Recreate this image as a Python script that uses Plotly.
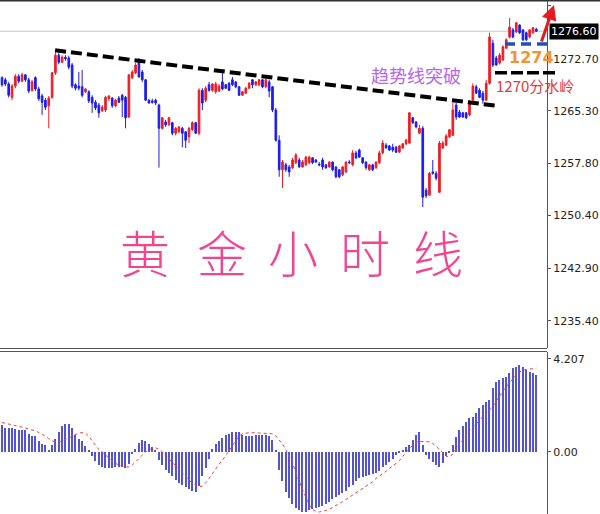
import plotly.graph_objects as go

# ---------------- data ----------------
opens = [1270.0,1269.7,1269.1,1267.2,1268.8,1270.2,1269.5,1270.4,1269.7,1268.2,
         1270.0,1268.4,1267.4,1266.8,1266.0,1267.2,1270.7,1273.2,1272.2,1272.9,
         1272.8,1271.8,1269.0,1268.8,1268.7,1268.0,1268.0,1267.2,1266.5,1266.1,
         1265.3,1265.4,1267.0,1267.1,1266.0,1267.1,1267.5,1267.2,1264.4,1270.0,
         1270.7,1272.5,1270.8,1269.7,1266.8,1266.7,1266.8,1266.1,1262.8,1263.7,
         1263.3,1263.6,1262.1,1262.3,1262.8,1262.3,1261.6,1262.6,1263.6,1262.1,
         1268.2,1266.8,1269.0,1268.2,1268.0,1268.1,1269.4,1269.0,1269.2,1269.7,
         1269.4,1268.7,1267.5,1267.8,1268.5,1269.7,1269.0,1269.0,1269.7,1268.7,
         1269.4,1268.7,1265.4,1261.1,1256.9,1257.6,1257.3,1257.2,1257.9,1258.3,
         1257.3,1257.6,1257.9,1258.6,1258.3,1257.7,1258.3,1257.6,1257.3,1258.0,
         1257.3,1256.9,1256.2,1256.6,1258.0,1257.6,1259.3,1259.7,1258.6,1258.0,
         1256.9,1257.6,1257.2,1257.9,1259.3,1260.4,1260.3,1260.1,1260.1,1259.4,
         1260.0,1260.6,1260.7,1264.3,1263.7,1262.1,1262.8,1254.0,1253.3,1256.6,
         1256.4,1253.7,1260.0,1260.4,1261.6,1261.8,1266.1,1265.1,1265.0,1265.0,
         1264.7,1266.8,1268.7,1268.2,1267.8,1266.8,1269.2,1274.9,1272.8,1272.1,
         1272.5,1274.2,1275.8,1276.8,1276.5,1277.5,1276.8,1276.4,1275.8,1276.4,
         1276.9]
highs = [1270.2,1270.0,1269.4,1269.1,1270.5,1270.5,1270.7,1270.5,1270.0,1269.7,
         1270.2,1268.7,1267.7,1267.1,1267.4,1270.8,1273.9,1273.5,1273.2,1273.2,
         1273.1,1272.1,1269.2,1270.8,1271.1,1268.5,1268.2,1267.5,1266.8,1266.4,
         1266.1,1267.4,1267.5,1267.2,1267.0,1267.4,1267.7,1267.4,1270.5,1271.1,
         1272.1,1272.8,1271.1,1269.8,1267.0,1267.0,1267.0,1266.3,1264.4,1264.0,
         1264.4,1263.7,1263.0,1263.1,1263.0,1262.4,1263.0,1263.8,1263.7,1268.5,
         1268.5,1268.8,1269.4,1269.2,1269.4,1269.1,1270.8,1269.1,1269.4,1270.1,
         1269.5,1268.8,1268.1,1268.7,1269.4,1269.8,1269.5,1269.8,1269.8,1269.8,
         1269.7,1268.8,1265.7,1261.8,1258.3,1257.9,1257.6,1258.6,1259.3,1258.6,
         1258.3,1258.9,1258.9,1258.7,1258.4,1258.0,1258.6,1257.7,1258.1,1258.1,
         1257.4,1257.0,1257.4,1258.1,1258.3,1259.7,1259.6,1259.9,1258.7,1258.1,
         1257.7,1257.7,1258.1,1259.6,1261.1,1260.7,1260.4,1260.6,1260.3,1260.4,
         1260.7,1261.3,1265.1,1264.4,1263.8,1263.3,1263.1,1254.3,1256.6,1258.3,
         1256.7,1261.0,1261.0,1262.0,1262.7,1266.4,1266.4,1265.4,1265.1,1265.1,
         1266.8,1269.2,1269.0,1268.5,1268.1,1269.7,1276.4,1275.4,1273.1,1273.5,
         1274.6,1275.6,1278.5,1277.1,1277.9,1277.6,1276.9,1276.5,1276.9,1277.2,
         1277.1]
lows = [1268.7,1268.8,1267.2,1266.8,1268.5,1269.2,1269.4,1269.4,1267.8,1268.0,
        1268.1,1266.7,1264.7,1265.4,1262.8,1267.0,1270.4,1271.9,1272.1,1272.4,
        1271.2,1268.5,1268.2,1268.2,1267.2,1267.8,1266.4,1265.0,1265.4,1264.3,
        1265.1,1265.1,1266.7,1265.7,1265.8,1266.4,1264.4,1262.8,1264.3,1269.8,
        1270.5,1270.0,1269.4,1266.7,1266.3,1266.3,1266.1,1257.2,1262.6,1263.0,
        1263.1,1261.8,1261.8,1262.1,1260.1,1260.0,1260.7,1262.4,1262.0,1261.8,
        1265.4,1266.5,1268.0,1268.0,1267.7,1268.0,1268.2,1268.4,1268.1,1268.8,
        1268.5,1267.4,1267.4,1267.7,1268.4,1268.5,1268.8,1268.8,1268.5,1268.5,
        1267.2,1265.1,1260.9,1255.9,1254.3,1256.6,1255.9,1257.0,1257.7,1257.2,
        1257.2,1257.4,1257.7,1257.7,1257.9,1257.4,1256.9,1257.0,1257.2,1256.7,
        1255.7,1255.7,1256.0,1256.4,1257.7,1257.4,1258.4,1258.6,1257.7,1256.9,
        1256.7,1256.7,1257.0,1257.7,1259.1,1259.9,1259.6,1259.4,1259.3,1259.3,
        1259.9,1260.4,1260.6,1263.4,1262.8,1262.0,1251.6,1252.9,1253.2,1256.2,
        1255.4,1253.6,1259.9,1260.3,1261.4,1261.7,1264.0,1264.3,1264.3,1264.1,
        1264.5,1266.7,1267.7,1267.1,1266.3,1266.7,1269.0,1271.5,1271.7,1271.9,
        1272.4,1274.1,1275.6,1275.6,1276.4,1276.2,1275.2,1275.2,1275.6,1276.2,
        1276.5]
closes = [1269.0,1269.1,1267.5,1268.8,1270.2,1269.5,1270.4,1269.7,1268.1,1269.4,
          1268.4,1267.0,1266.5,1265.8,1267.1,1270.7,1273.2,1272.2,1272.9,1272.7,
          1271.5,1268.8,1268.5,1268.5,1267.5,1268.4,1266.7,1266.4,1265.7,1265.0,
          1265.8,1267.2,1267.4,1266.0,1266.8,1266.5,1266.8,1264.3,1270.4,1270.8,
          1271.8,1270.1,1269.7,1266.8,1266.4,1266.5,1266.4,1262.8,1264.3,1263.3,
          1264.3,1262.1,1262.8,1263.0,1262.1,1261.1,1262.8,1263.6,1262.1,1268.2,
          1266.4,1268.5,1268.2,1269.1,1269.1,1268.8,1268.4,1268.5,1268.2,1269.0,
          1268.7,1267.5,1268.0,1268.5,1269.2,1269.0,1269.4,1269.7,1268.7,1269.7,
          1268.1,1265.4,1261.1,1256.9,1258.0,1256.9,1256.6,1258.3,1259.0,1257.3,
          1258.0,1258.7,1258.7,1257.9,1258.0,1257.6,1257.3,1257.2,1258.0,1256.9,
          1255.9,1255.9,1257.3,1258.0,1257.9,1259.3,1258.6,1258.7,1257.9,1257.2,
          1257.6,1256.9,1258.0,1259.3,1260.7,1260.0,1259.7,1259.7,1259.4,1260.3,
          1260.6,1261.1,1265.0,1263.6,1263.0,1262.8,1253.0,1253.2,1256.4,1256.4,
          1255.7,1260.7,1260.7,1261.7,1262.6,1265.4,1264.4,1264.4,1264.4,1264.3,
          1266.4,1268.8,1267.8,1267.2,1266.8,1269.2,1275.8,1271.8,1271.8,1273.2,
          1274.4,1275.4,1277.2,1275.8,1277.8,1276.4,1275.4,1275.4,1276.8,1277.1,
          1276.6]

macd_hist = [1.2,1.1,1.1,1.1,1.05,1.0,1.0,1.0,0.8,0.72,
             0.7,0.5,0.35,0.3,0.1,0.3,0.6,0.9,1.15,1.25,
             1.25,1.1,0.75,0.6,0.5,0.25,0.05,-0.2,-0.4,-0.6,
             -0.7,-0.75,-0.75,-0.75,-0.7,-0.7,-0.7,-0.75,-0.55,-0.1,
             0.15,0.4,0.55,0.5,0.35,0.2,0.05,-0.35,-0.6,-0.8,
             -0.95,-1.1,-1.25,-1.4,-1.5,-1.6,-1.7,-1.75,-1.8,-1.55,
             -1.1,-0.75,-0.3,0.15,0.35,0.5,0.65,0.75,0.82,0.88,
             0.92,0.9,0.78,0.72,0.7,0.72,0.76,0.78,0.78,0.76,
             0.74,0.55,0.1,-0.8,-1.3,-1.8,-2.1,-2.35,-2.55,-2.65,
             -2.7,-2.7,-2.65,-2.6,-2.55,-2.5,-2.45,-2.35,-2.25,-2.15,
             -2.05,-1.95,-1.85,-1.75,-1.6,-1.5,-1.3,-1.2,-1.15,-1.1,
             -1.05,-1.0,-0.95,-0.85,-0.7,-0.6,-0.45,-0.3,-0.15,-0.05,
             0.1,0.2,0.3,0.55,0.75,0.9,0.3,-0.15,-0.3,-0.45,
             -0.6,-0.7,-0.5,-0.2,-0.05,0.3,0.69,1.0,1.15,1.37,
             1.52,1.6,1.75,1.98,2.13,2.28,2.35,2.88,3.18,3.26,
             3.33,3.41,3.56,3.79,3.86,3.94,3.86,3.71,3.63,3.56,
             3.48]
macd_signal = [1.33,1.3,1.27,1.24,1.2,1.16,1.12,1.08,1.04,1.0,
               0.95,0.88,0.8,0.7,0.6,0.5,0.45,0.45,0.5,0.55,
               0.62,0.72,0.8,0.85,0.87,0.85,0.7,0.5,0.3,0.1,
               0.0,-0.15,-0.3,-0.42,-0.52,-0.6,-0.66,-0.68,-0.68,-0.6,
               -0.45,-0.3,-0.15,0.0,0.1,0.16,0.18,0.12,0.0,-0.15,
               -0.3,-0.45,-0.6,-0.78,-0.95,-1.12,-1.28,-1.42,-1.52,-1.58,
               -1.55,-1.4,-1.2,-0.98,-0.75,-0.55,-0.38,-0.15,0.05,0.3,
               0.55,0.72,0.82,0.86,0.87,0.87,0.86,0.86,0.86,0.85,
               0.84,0.82,0.72,0.55,0.35,0.1,-0.18,-0.5,-0.95,-1.35,
               -1.7,-2.05,-2.4,-2.6,-2.7,-2.72,-2.7,-2.65,-2.6,-2.52,
               -2.42,-2.33,-2.25,-2.15,-2.05,-1.95,-1.85,-1.78,-1.68,-1.55,
               -1.45,-1.35,-1.2,-1.1,-1.0,-0.88,-0.75,-0.62,-0.5,-0.4,
               -0.2,0.0,0.15,0.3,0.42,0.47,0.48,0.47,0.45,0.38,
               0.25,0.1,-0.05,-0.2,-0.22,-0.1,0.15,0.35,0.55,0.78,
               0.95,1.1,1.28,1.45,1.6,1.75,1.9,2.05,2.3,2.55,
               2.75,2.95,3.15,3.35,3.5,3.62,3.7,3.73,3.76,3.78,
               3.79]

price_ticks = [1235.40, 1242.90, 1250.40, 1257.80, 1265.30, 1272.70, 1280.20]
price_tick_text = ["1235.40", "1242.90", "1250.40", "1257.80", "1265.30", "1272.70", "1280.20"]
bid_price = 1276.60
bid_text = "1276.60"
macd_ticks = [4.207, 0.0]
macd_tick_text = ["4.207", "0.00"]
macd_min_text = "-3.451"

trend_start = (15.9, 1273.9)   # (bar index, price)
trend_end = (148.2, 1266.0)
level_1274 = 1274.8
level_1270 = 1270.7
title_chars = ["黄", "金", "小", "时", "线"]

# ---------------- layout helpers ----------------
W, H = 600, 514
PLOT_W = 547
Y1_RANGE = [1231.55, 1281.05]
Y2_RANGE = [-2.81, 4.52]
DOM1 = [1 - 348 / H, 1.0]
DOM2 = [0.0, 1 - 352 / H]
X_RANGE = [-0.6, 163.2]

def px(xp):
    return xp / PLOT_W

def py(yp):
    return 1 - yp / H

def price_to_paper(p):
    return DOM1[0] + (p - Y1_RANGE[0]) / (Y1_RANGE[1] - Y1_RANGE[0]) * (DOM1[1] - DOM1[0])

RED = "#ee1c24"
BLUE = "#1c1cf0"
xs = list(range(len(closes)))

fig = go.Figure()
fig.add_trace(go.Candlestick(
    x=xs, open=opens, high=highs, low=lows, close=closes,
    increasing=dict(line=dict(color=RED, width=1), fillcolor=RED),
    decreasing=dict(line=dict(color=BLUE, width=1), fillcolor=BLUE),
    whiskerwidth=0, xaxis="x", yaxis="y", showlegend=False, hoverinfo="skip"))

fig.add_trace(go.Bar(
    x=xs, y=macd_hist, width=0.38, marker=dict(color="#5353d6", line=dict(width=0)),
    xaxis="x2", yaxis="y2", showlegend=False, hoverinfo="skip"))
fig.add_trace(go.Scatter(
    x=xs, y=macd_signal, mode="lines", line=dict(color="#e8403a", width=1, dash="dot"),
    xaxis="x2", yaxis="y2", showlegend=False, hoverinfo="skip"))

axis_font = dict(family="DejaVu Sans", size=11, color="#222")

fig.update_layout(
    width=W, height=H, margin=dict(l=0, r=W - PLOT_W, t=0, b=0),
    paper_bgcolor="white", plot_bgcolor="white",
    xaxis=dict(domain=[0, 1], range=X_RANGE, anchor="y", showticklabels=False, showgrid=False,
               zeroline=False, rangeslider=dict(visible=False), showline=False, ticks=""),
    xaxis2=dict(domain=[0, 1], range=X_RANGE, anchor="y2", showticklabels=False, showgrid=False,
                zeroline=False, showline=False, ticks=""),
    yaxis=dict(domain=DOM1, range=Y1_RANGE, side="right", tickvals=price_ticks, ticktext=price_tick_text,
               showgrid=False, zeroline=False, showline=True, linecolor="#555", linewidth=1,
               ticks="outside", ticklen=3, tickcolor="#555", tickfont=axis_font),
    yaxis2=dict(domain=DOM2, range=Y2_RANGE, side="right", tickvals=macd_ticks, ticktext=macd_tick_text,
                showgrid=False, zeroline=False, showline=True, linecolor="#555", linewidth=1,
                ticks="outside", ticklen=3, tickcolor="#555", tickfont=axis_font),
    bargap=0,
)

shapes = []
# top border
shapes.append(dict(type="line", xref="paper", yref="paper", x0=0, x1=px(W), y0=py(0.5), y1=py(0.5),
                   line=dict(color="#333", width=2)))
# panel separators
for yy in (348.5, 351.5):
    shapes.append(dict(type="line", xref="paper", yref="paper", x0=0, x1=1, y0=py(yy), y1=py(yy),
                       line=dict(color="#555", width=1)))
# bid line
shapes.append(dict(type="line", xref="paper", yref="paper", x0=0, x1=1,
                   y0=price_to_paper(bid_price), y1=price_to_paper(bid_price),
                   line=dict(color="#c8c8c8", width=1), layer="below"))
# trend line
shapes.append(dict(type="line", xref="x", yref="y", x0=trend_start[0], y0=trend_start[1],
                   x1=trend_end[0], y1=trend_end[1], line=dict(color="black", width=4, dash="11px,5px")))
# 1274 blue dashed
shapes.append(dict(type="line", xref="paper", yref="paper", x0=px(505), x1=px(548),
                   y0=price_to_paper(level_1274), y1=price_to_paper(level_1274),
                   line=dict(color="#1f4fbf", width=3.5, dash="10px,6px")))
# 1270 black dashed
shapes.append(dict(type="line", xref="paper", yref="paper", x0=px(495), x1=px(556),
                   y0=price_to_paper(level_1270), y1=price_to_paper(level_1270),
                   line=dict(color="black", width=3.5, dash="12px,4px")))
fig.update_layout(shapes=shapes)

ann = []
ann.append(dict(xref="paper", yref="paper", x=px(549), y=price_to_paper(bid_price), xanchor="left",
                yanchor="middle", text=bid_text, showarrow=False, bgcolor="black",
                font=dict(family="DejaVu Sans", size=11, color="white"), borderpad=1))
ann.append(dict(xref="paper", yref="paper", x=px(553), y=py(511), xanchor="left", yanchor="top",
                text=macd_min_text, showarrow=False, font=axis_font))
ann.append(dict(xref="paper", yref="paper", x=px(416), y=py(75), xanchor="center", yanchor="middle",
                text="趋势线突破", showarrow=False,
                font=dict(family="Noto Sans CJK SC", size=18, color="#b569e6")))
ann.append(dict(xref="paper", yref="paper", x=px(531), y=py(57), xanchor="center", yanchor="middle",
                text="<b>1274</b>", showarrow=False,
                font=dict(family="DejaVu Sans", size=16, color="#f29436")))
ann.append(dict(xref="paper", yref="paper", x=px(535), y=py(86), xanchor="center", yanchor="middle",
                text="1270分水岭", showarrow=False,
                font=dict(family="Noto Sans CJK SC", size=15, color="#e23a3a")))
# red arrow
ann.append(dict(xref="paper", yref="paper", x=px(554), y=py(5), ax=-13, ay=38, text="", showarrow=True,
                arrowhead=2, arrowsize=1, arrowwidth=3, arrowcolor="#e8191c"))
# title characters
for ch, cx in zip(title_chars, [145, 222, 293, 365, 438]):
    ann.append(dict(xref="paper", yref="paper", x=px(cx), y=py(251), xanchor="center", yanchor="middle",
                    text=ch, showarrow=False,
                    font=dict(family="Noto Sans CJK SC", size=50, color="#f0468e", weight=300)))
fig.update_layout(annotations=ann)

fig.write_html("out.html", config={"displayModeBar": False},
               post_script="document.body.style.margin='0';document.body.style.padding='0';")
